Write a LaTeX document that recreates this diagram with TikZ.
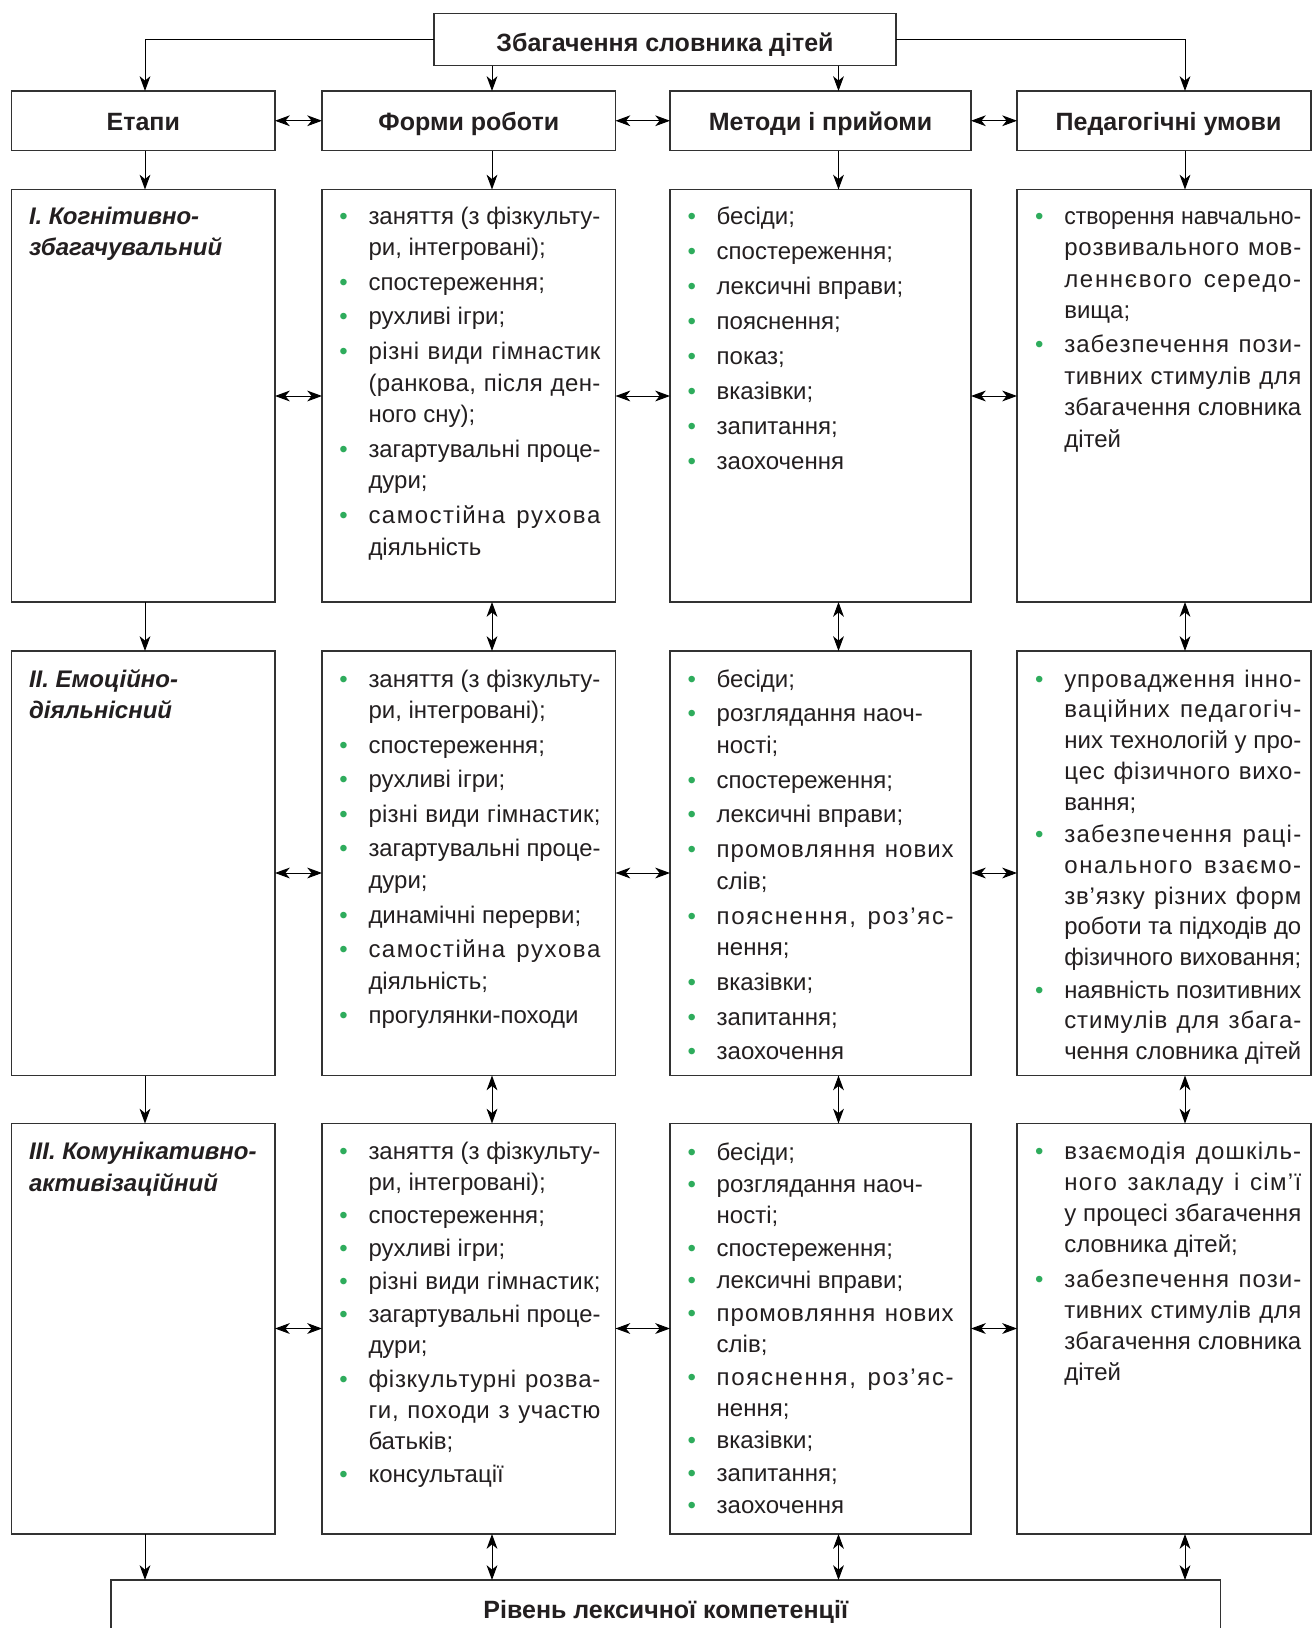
\documentclass[tikz,border=0pt]{standalone}
\usepackage{fontspec}
\setmainfont{Liberation Sans}
\usepackage{graphicx}
\usetikzlibrary{arrows.meta,fit,calc}
\definecolor{bgreen}{RGB}{46,172,92}
\definecolor{boxc}{RGB}{50,50,50}
\definecolor{txtc}{RGB}{35,31,32}
\ExplSyntaxOn
\seq_new:N \l__lsj_words_seq
\tl_new:N \l__lsj_out_tl
\cs_new_protected:Npn \lsline #1
  {
    \seq_set_split:Nnn \l__lsj_words_seq { ~ } {#1}
    \tl_clear:N \l__lsj_out_tl
    \seq_map_indexed_inline:Nn \l__lsj_words_seq
      {
        \int_compare:nNnT {##1} > {1}
          { \tl_put_right:Nn \l__lsj_out_tl { \hskip\fontdimen2\font plus 3pt\relax } }
        \tl_map_inline:nn {##2}
          { \tl_put_right:Nn \l__lsj_out_tl { ####1 \hskip 0pt plus 1pt\relax } }
        \tl_put_right:Nn \l__lsj_out_tl { \unskip }
      }
    \l__lsj_out_tl
  }
\ExplSyntaxOff
\newif\iffirstitem
\newlength\natw
\newlength\igap
\newcommand\jbox[1]{\settowidth\natw{#1}\ifdim\natw>\linewidth\resizebox{\linewidth}{\height}{#1}\else\makebox[\linewidth][s]{\lsline{#1}}\fi}
\newcommand\gapit{\iffirstitem\global\firstitemfalse\else\vspace{\igap}\fi}
\newcommand\bul{\llap{\textcolor{bgreen}{•}\hspace{10.4pt}}}
\newcommand\BJ[1]{\gapit\noindent\bul\jbox{#1}\par}
\newcommand\BL[1]{\gapit\noindent\bul#1\par}
\newcommand\CJ[1]{\noindent\jbox{#1}\par}
\newcommand\CL[1]{\noindent#1\par}
\newcommand\cell[4]{\parbox[t]{#1pt}{\fontsize{12}{#2pt}\selectfont\setlength\igap{#3pt}\global\firstitemtrue #4}}
\newcommand\stage[2]{\parbox[t]{125pt}{\fontsize{12}{15.75pt}\selectfont\bfseries\itshape #1\par #2}}
\tikzset{
  bx/.style={draw=boxc, line width=0.65pt, inner sep=0pt, outer sep=0pt},
  hd/.style={bx, font=\fontsize{12.5}{14}\selectfont\bfseries, text height=9.5pt, text depth=0pt},
  tn/.style={anchor=base west, inner sep=0pt, outer sep=0pt},
  con/.style={line width=0.5pt, draw=black},
  a1/.style={con, -{Stealth[length=7.4pt,width=5.4pt,inset=2.2pt]}},
  a2/.style={con, {Stealth[length=7.4pt,width=5.4pt,inset=2.2pt]}-{Stealth[length=7.4pt,width=5.4pt,inset=2.2pt]}}
}
\begin{document}
\begin{tikzpicture}[x=0.5pt,y=-0.5pt,text=txtc,font=\fontsize{12}{15.75}\selectfont]
\useasboundingbox (0,0) rectangle (1312,1628);
\clip (0,0) rectangle (1312,1628);
\fill[white] (0,0) rectangle (1312,1628);

% column / row reference coordinates
\coordinate (xE) at (145,0);
\coordinate (xF) at (492,0);
\coordinate (xM) at (838.5,0);
\coordinate (xP) at (1185,0);
\coordinate (yR1) at (0,396);
\coordinate (yR2) at (0,873);
\coordinate (yR3) at (0,1328.5);

% title and headers (sizes in pt = px/2)
\node[hd, text height=11.6pt, minimum width=231pt, minimum height=26pt] (title) at (665,39.5) {Збагачення словника дітей};
\node[hd, minimum width=131.75pt, minimum height=29.75pt] (eh) at (143.25,120.75) {Етапи};
\node[hd, minimum width=146.75pt, minimum height=29.75pt] (fh) at (468.75,120.75) {Форми роботи};
\node[hd, minimum width=150.5pt, minimum height=29.75pt] (mh) at (820.5,120.75) {Методи і прийоми};
\node[hd, minimum width=147pt, minimum height=29.75pt] (ph) at (1164,120.75) {\hspace*{4.5pt}Педагогічні умови};

% row boxes
\node[bx, fit={(11.5,189.5) (275,602)}] (e1) {};
\node[bx, fit={(322,189.5) (615.5,602)}] (f1) {};
\node[bx, fit={(670,189.5) (971,602)}] (m1) {};
\node[bx, fit={(1017,189.5) (1311,602)}] (p1) {};
\node[bx, fit={(11.5,651) (275,1075.5)}] (e2) {};
\node[bx, fit={(322,651) (615.5,1075.5)}] (f2) {};
\node[bx, fit={(670,651) (971,1075.5)}] (m2) {};
\node[bx, fit={(1017,651) (1311,1075.5)}] (p2) {};
\node[bx, fit={(11.5,1123.5) (275,1534)}] (e3) {};
\node[bx, fit={(322,1123.5) (615.5,1534)}] (f3) {};
\node[bx, fit={(670,1123.5) (971,1534)}] (m3) {};
\node[bx, fit={(1017,1123.5) (1311,1534)}] (p3) {};
\node[hd, text height=8.4pt, minimum width=554.75pt, minimum height=30pt] (bt) at (665.75,1610) {Рівень лексичної компетенції};

% stage labels
\node[tn] (e1t) at (29,224) {\stage{I. Когнітивно-}{збагачувальний}};
\node[tn] (e2t) at (29,687) {\stage{II. Емоційно-}{діяльнісний}};
\node[tn] (e3t) at (29,1159.5) {\stage{III. Комунікативно-}{активізаційний}};

% row 1 texts
\node[tn] (f1t) at (368.5,224) {\cell{116}{15.75}{1.6}{%
\BJ{заняття (з фізкульту-}
\CL{ри, інтегровані);}
\BL{спостереження;}
\BL{рухливі ігри;}
\BJ{різні види гімнастик}
\CJ{(ранкова, після ден-}
\CL{ного сну);}
\BJ{загартувальні проце-}
\CL{дури;}
\BJ{самостійна рухова}
\CL{діяльність}}};
\node[tn] (m1t) at (716.7,224) {\cell{118.5}{15.75}{1.75}{%
\BL{бесіди;}
\BL{спостереження;}
\BL{лексичні вправи;}
\BL{пояснення;}
\BL{показ;}
\BL{вказівки;}
\BL{запитання;}
\BL{заохочення}}};
\node[tn] (p1t) at (1064.3,224) {\cell{118.5}{15.75}{1.35}{%
\BJ{створення навчально-}
\CJ{розвивального мов-}
\CJ{леннєвого середо-}
\CL{вища;}
\BJ{забезпечення пози-}
\CJ{тивних стимулів для}
\CJ{збагачення словника}
\CL{дітей}}};

% row 2 texts
\node[tn] (f2t) at (368.5,687) {\cell{116}{15.75}{1.55}{%
\BJ{заняття (з фізкульту-}
\CL{ри, інтегровані);}
\BL{спостереження;}
\BL{рухливі ігри;}
\BJ{різні види гімнастик;}
\BJ{загартувальні проце-}
\CL{дури;}
\BL{динамічні перерви;}
\BJ{самостійна рухова}
\CL{діяльність;}
\BL{прогулянки-походи}}};
\node[tn] (m2t) at (716.7,687) {\cell{118.5}{15.75}{1.65}{%
\BL{бесіди;}
\BL{розглядання наоч-}
\CL{ності;}
\BL{спостереження;}
\BL{лексичні вправи;}
\BJ{промовляння нових}
\CL{слів;}
\BJ{пояснення, роз’яс-}
\CL{нення;}
\BL{вказівки;}
\BL{запитання;}
\BL{заохочення}}};
\node[tn] (p2t) at (1064.3,687) {\cell{118.5}{15.4}{0.75}{%
\BJ{упровадження інно-}
\CJ{ваційних педагогіч-}
\CJ{них технологій у про-}
\CJ{цес фізичного вихо-}
\CL{вання;}
\BJ{забезпечення раці-}
\CJ{онального взаємо-}
\CJ{зв’язку різних форм}
\CJ{роботи та підходів до}
\CJ{фізичного виховання;}
\BJ{наявність позитивних}
\CJ{стимулів для збага-}
\CJ{чення словника дітей}}};

% row 3 texts
\node[tn] (f3t) at (368.5,1159.5) {\cell{116}{15.5}{1.05}{%
\BJ{заняття (з фізкульту-}
\CL{ри, інтегровані);}
\BL{спостереження;}
\BL{рухливі ігри;}
\BJ{різні види гімнастик;}
\BJ{загартувальні проце-}
\CL{дури;}
\BJ{фізкультурні розва-}
\CJ{ги, походи з участю}
\CL{батьків;}
\BL{консультації}}};
\node[tn] (m3t) at (716.7,1160) {\cell{118.5}{15.5}{0.8}{%
\BL{бесіди;}
\BL{розглядання наоч-}
\CL{ності;}
\BL{спостереження;}
\BL{лексичні вправи;}
\BJ{промовляння нових}
\CL{слів;}
\BJ{пояснення, роз’яс-}
\CL{нення;}
\BL{вказівки;}
\BL{запитання;}
\BL{заохочення}}};
\node[tn] (p3t) at (1064.3,1159.5) {\cell{118.5}{15.5}{1.75}{%
\BJ{взаємодія дошкіль-}
\CJ{ного закладу і сім’ї}
\CJ{у процесі збагачення}
\CL{словника дітей;}
\BJ{забезпечення пози-}
\CJ{тивних стимулів для}
\CJ{збагачення словника}
\CL{дітей}}};

% connectors from title
\draw[a1] (title.west) -| (eh.north -| xE);
\draw[a1] (title.east) -| (ph.north -| xP);
\draw[a1] (title.south -| xF) -- (fh.north -| xF);
\draw[a1] (title.south -| xM) -- (mh.north -| xM);

% header horizontals
\draw[a2] (eh.east) -- (fh.west);
\draw[a2] (fh.east) -- (mh.west);
\draw[a2] (mh.east) -- (ph.west);

% header to row 1
\draw[a1] (eh.south -| xE) -- (e1.north -| xE);
\draw[a1] (fh.south -| xF) -- (f1.north -| xF);
\draw[a1] (mh.south -| xM) -- (m1.north -| xM);
\draw[a1] (ph.south -| xP) -- (p1.north -| xP);

% row horizontals
\draw[a2] (e1.east |- yR1) -- (f1.west |- yR1);
\draw[a2] (f1.east |- yR1) -- (m1.west |- yR1);
\draw[a2] (m1.east |- yR1) -- (p1.west |- yR1);
\draw[a2] (e2.east |- yR2) -- (f2.west |- yR2);
\draw[a2] (f2.east |- yR2) -- (m2.west |- yR2);
\draw[a2] (m2.east |- yR2) -- (p2.west |- yR2);
\draw[a2] (e3.east |- yR3) -- (f3.west |- yR3);
\draw[a2] (f3.east |- yR3) -- (m3.west |- yR3);
\draw[a2] (m3.east |- yR3) -- (p3.west |- yR3);

% row 1 to row 2
\draw[a1] (e1.south -| xE) -- (e2.north -| xE);
\draw[a2] (f1.south -| xF) -- (f2.north -| xF);
\draw[a2] (m1.south -| xM) -- (m2.north -| xM);
\draw[a2] (p1.south -| xP) -- (p2.north -| xP);

% row 2 to row 3
\draw[a1] (e2.south -| xE) -- (e3.north -| xE);
\draw[a2] (f2.south -| xF) -- (f3.north -| xF);
\draw[a2] (m2.south -| xM) -- (m3.north -| xM);
\draw[a2] (p2.south -| xP) -- (p3.north -| xP);

% row 3 to bottom
\draw[a1] (e3.south -| xE) -- (bt.north -| xE);
\draw[a2] (f3.south -| xF) -- (bt.north -| xF);
\draw[a2] (m3.south -| xM) -- (bt.north -| xM);
\draw[a2] (p3.south -| xP) -- (bt.north -| xP);
\end{tikzpicture}
\end{document}
